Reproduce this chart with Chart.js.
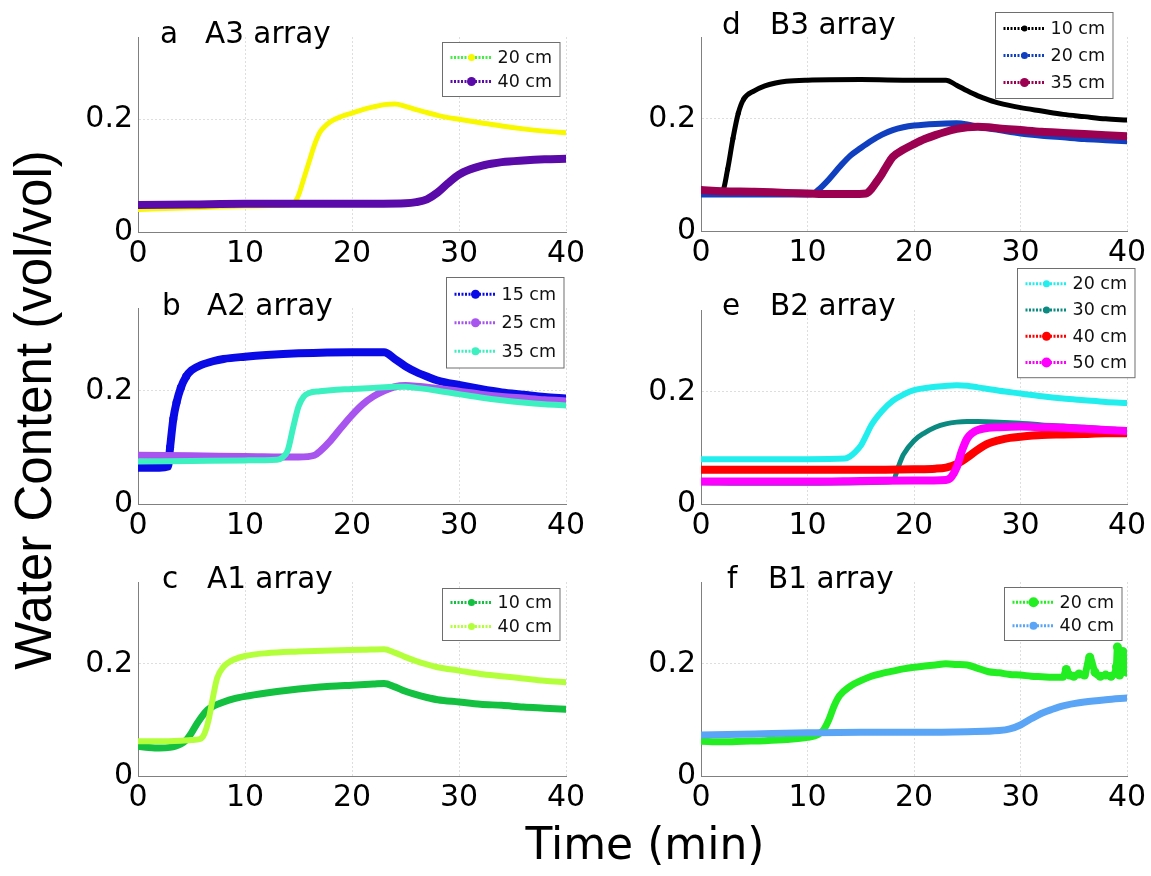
<!DOCTYPE html>
<html><head><meta charset="utf-8">
<script src="https://cdn.jsdelivr.net/npm/chart.js@4.4.0/dist/chart.umd.min.js"></script>
<style>
html,body{margin:0;padding:0;background:#fff;width:1151px;height:876px;overflow:hidden;position:relative;}
canvas{position:absolute;}
.txt{position:absolute;white-space:nowrap;color:#000;line-height:0;}
</style></head><body>
<div id="root"></div>
<script>
// ---------- data (time in min, water content vol/vol) ----------
const xTicks = [0, 10, 20, 30, 40];
const yTicks = [0, 0.2];

// a  A3 array
const A3_20_t = [0,5,10,14,14.5,15,15.5,16,16.5,17,17.5,18,19,20,21,22,23,24,25,26,27,28,29,30,32,34,36,38,40];
const A3_20_v = [0.040,0.043,0.046,0.048,0.050,0.065,0.095,0.125,0.155,0.177,0.188,0.196,0.205,0.211,0.217,0.222,0.226,0.227,0.223,0.217,0.212,0.207,0.203,0.200,0.194,0.188,0.183,0.179,0.176];
const A3_40_t = [0,5,10,15,20,25,26,27,28,29,30,31,32,33,34,36,38,40];
const A3_40_v = [0.048,0.049,0.050,0.050,0.050,0.051,0.053,0.058,0.070,0.087,0.102,0.111,0.117,0.121,0.124,0.127,0.129,0.130];

// d  B3 array
const B3_10_t = [0,1,2,2.5,3,3.5,4,5,6,7,8,10,15,20,23,24,25,26,27,28,30,32,34,36,38,40];
const B3_10_v = [0.070,0.070,0.071,0.110,0.165,0.210,0.235,0.250,0.259,0.264,0.267,0.269,0.270,0.269,0.269,0.260,0.250,0.241,0.234,0.228,0.220,0.214,0.208,0.204,0.200,0.198];
const B3_20_t = [0,5,10,10.5,11,12,13,14,15,16,17,18,19,20,22,24,25,26,28,30,32,34,36,38,40];
const B3_20_v = [0.065,0.065,0.065,0.066,0.073,0.092,0.114,0.134,0.148,0.161,0.172,0.180,0.185,0.188,0.191,0.192,0.190,0.186,0.180,0.174,0.170,0.167,0.164,0.162,0.160];
const B3_35_t = [0,2,5,8,10,12,14,15.5,16,16.5,17,17.5,18,19,20,21,22,23,24,25,26,27,28,30,32,34,36,38,40];
const B3_35_v = [0.073,0.071,0.070,0.068,0.067,0.066,0.066,0.067,0.075,0.088,0.102,0.118,0.132,0.145,0.155,0.164,0.171,0.177,0.182,0.185,0.186,0.185,0.183,0.180,0.177,0.175,0.173,0.171,0.169];

// b  A2 array
const A2_15_t = [0,1,2,2.8,3.0,3.3,3.6,4,4.5,5,6,7,8,10,12,15,20,23,24,25,26,27,28,30,32,34,36,38,40];
const A2_15_v = [0.064,0.064,0.064,0.066,0.100,0.150,0.179,0.205,0.225,0.236,0.246,0.252,0.256,0.260,0.263,0.266,0.268,0.268,0.256,0.243,0.233,0.225,0.218,0.210,0.203,0.197,0.193,0.189,0.186];
const A2_25_t = [0,5,10,15,16.5,17,18,19,20,21,22,23,24,25,26,28,30,32,34,36,38,40];
const A2_25_v = [0.086,0.085,0.084,0.083,0.086,0.093,0.112,0.135,0.157,0.176,0.190,0.200,0.207,0.209,0.208,0.204,0.199,0.194,0.190,0.187,0.184,0.182];
const A2_35_t = [0,5,10,13,13.5,14,14.5,15,15.5,16,17,18,20,22,24,25,26,28,30,32,34,36,38,40];
const A2_35_v = [0.075,0.076,0.077,0.078,0.082,0.095,0.135,0.172,0.190,0.196,0.199,0.201,0.203,0.205,0.207,0.207,0.205,0.200,0.194,0.188,0.183,0.179,0.176,0.174];

// e  B2 array
const B2_20_t = [0,5,10,13.5,14,14.5,15,15.5,16,17,18,19,20,22,24,25,26,28,30,32,34,36,38,40];
const B2_20_v = [0.080,0.080,0.080,0.081,0.085,0.093,0.104,0.122,0.141,0.166,0.184,0.195,0.203,0.209,0.212,0.211,0.208,0.202,0.197,0.192,0.188,0.185,0.182,0.180];
const B2_30_t = [0,5,10,15,18,18.5,19,20,21,22,23,24,25,26,28,30,32,34,36,38,40];
const B2_30_v = [0.038,0.037,0.037,0.038,0.040,0.065,0.088,0.113,0.127,0.137,0.143,0.146,0.147,0.147,0.146,0.144,0.141,0.139,0.137,0.134,0.132];
const B2_40_t = [0,5,10,15,20,22,23,24,25,26,27,28,29,30,32,34,36,38,40];
const B2_40_v = [0.061,0.061,0.061,0.061,0.062,0.063,0.065,0.071,0.083,0.097,0.108,0.114,0.118,0.120,0.123,0.124,0.125,0.126,0.126];
const B2_50_t = [0,5,10,15,20,23,23.5,24,24.5,25,25.5,26,27,28,30,32,34,36,38,40];
const B2_50_v = [0.040,0.040,0.040,0.041,0.042,0.043,0.048,0.065,0.095,0.117,0.127,0.132,0.136,0.137,0.138,0.137,0.136,0.134,0.132,0.130];

// c  A1 array
const A1_10_t = [0,1,2,3,3.5,4,4.5,5,5.5,6,6.5,7,8,9,10,12,14,16,18,20,22,23,24,25,26,27,28,30,32,34,36,38,40];
const A1_10_v = [0.053,0.051,0.050,0.051,0.053,0.057,0.064,0.077,0.093,0.107,0.118,0.124,0.132,0.138,0.142,0.148,0.153,0.157,0.160,0.162,0.164,0.165,0.159,0.151,0.145,0.140,0.136,0.132,0.128,0.126,0.123,0.121,0.119];
const A1_40_t = [0,2,4,5,5.8,6.2,6.6,7,7.4,8,8.5,9,10,12,15,18,21,23,24,25,26,27,28,30,32,34,36,38,40];
const A1_40_v = [0.062,0.062,0.063,0.064,0.066,0.075,0.100,0.140,0.175,0.195,0.203,0.208,0.214,0.219,0.222,0.224,0.225,0.226,0.220,0.212,0.205,0.199,0.194,0.188,0.182,0.178,0.174,0.170,0.167];

// f  B1 array
const B1_20_t = [0,2,4,6,8,10,11,11.5,12,12.5,13,14,15,16,17,18,19,20,21,22,23,24,25,26,27,28,29,30,31,32,33,34,34.3,34.6,35,35.5,36,36.5,37,37.5,38,38.5,39,39.1,39.3,39.6,39.8,40];
const B1_20_v = [0.062,0.061,0.062,0.063,0.065,0.069,0.074,0.082,0.100,0.125,0.143,0.160,0.170,0.178,0.183,0.187,0.191,0.194,0.196,0.198,0.200,0.199,0.198,0.192,0.186,0.184,0.181,0.180,0.178,0.177,0.176,0.176,0.190,0.180,0.178,0.182,0.180,0.212,0.185,0.178,0.180,0.178,0.195,0.230,0.180,0.222,0.192,0.185];
const B1_40_t = [0,5,10,15,20,25,28,29,30,31,32,33,34,35,36,38,40];
const B1_40_v = [0.073,0.075,0.077,0.078,0.078,0.079,0.081,0.084,0.091,0.102,0.112,0.119,0.125,0.129,0.132,0.136,0.139];

// ---------- layout & styles ----------
const FONT = "'DejaVu Sans'";
const panels = [
  {letter:'a', name:'A3 array', area:[138,37,566,232], title:{lx:160,nx:205,base:43}, legend:{dx:7,dy:5,rowH:24,pad:3},
   series:[
    {label:'20 cm', t:A3_20_t, v:A3_20_v, color:'#f8f800', legendLine:'#44ee44', w:5, mr:3.5},
    {label:'40 cm', t:A3_40_t, v:A3_40_v, color:'#5a0aa8', w:8, mr:4.5}]},
  {letter:'d', name:'B3 array', area:[701,37,1127,231], title:{lx:722,nx:770,base:34}, legend:{dx:15,dy:-25,rowH:27,pad:2.5},
   series:[
    {label:'10 cm', t:B3_10_t, v:B3_10_v, color:'#000000', w:5, mr:3, dotsFrom:2, dotsTo:4.5, dotR:2.5},
    {label:'20 cm', t:B3_20_t, v:B3_20_v, color:'#1040c0', w:6, mr:3.5},
    {label:'35 cm', t:B3_35_t, v:B3_35_v, color:'#9c0050', w:8, mr:4.5}]},
  {letter:'b', name:'A2 array', area:[138,308,566,504], title:{lx:162,nx:207,base:315}, legend:{dx:3,dy:-31,rowH:28.5,pad:2.5},
   series:[
    {label:'15 cm', t:A2_15_t, v:A2_15_v, color:'#0a0ae6', w:8, mr:4.5, dotsFrom:2.9, dotsTo:4.6, dotR:4},
    {label:'25 cm', t:A2_25_t, v:A2_25_v, color:'#a855f0', w:7, mr:4.5},
    {label:'35 cm', t:A2_35_t, v:A2_35_v, color:'#3cf0c0', w:6, mr:4}]},
  {letter:'e', name:'B2 array', area:[701,310,1127,504], title:{lx:722,nx:770,base:315}, legend:{dx:-7,dy:-42,rowH:26.3,pad:2},
   series:[
    {label:'20 cm', t:B2_20_t, v:B2_20_v, color:'#22eeee', w:6, mr:3.5},
    {label:'30 cm', t:B2_30_t, v:B2_30_v, color:'#0a8a80', w:5, mr:3.5},
    {label:'40 cm', t:B2_40_t, v:B2_40_v, color:'#ff0000', w:8, mr:4.5},
    {label:'50 cm', t:B2_50_t, v:B2_50_v, color:'#ff00ff', w:8, mr:5}]},
  {letter:'c', name:'A1 array', area:[138,582,566,776], title:{lx:162,nx:207,base:588}, legend:{dx:7,dy:6,rowH:24,pad:2},
   series:[
    {label:'10 cm', t:A1_10_t, v:A1_10_v, color:'#14c040', w:7, mr:3.5},
    {label:'40 cm', t:A1_40_t, v:A1_40_v, color:'#b4ff3c', w:6, mr:3.5}]},
  {letter:'f', name:'B1 array', area:[701,582,1127,776], title:{lx:727,nx:768,base:588}, legend:{dx:6,dy:5,rowH:23.5,pad:3},
   series:[
    {label:'20 cm', t:B1_20_t, v:B1_20_v, color:'#22ee22', w:7, mr:5, dotsFrom:34.2, dotsTo:40, dotR:4.5},
    {label:'40 cm', t:B1_40_t, v:B1_40_v, color:'#5aa5f5', w:7, mr:4}]}
];

const PADL = 70, PADT = 50, PADR = 30, PADB = 45;

const boxLegend = {
  id: 'boxLegend',
  afterDatasetsDraw(chart) {
    const cfg = chart.options.plugins.boxLegend;
    if (!cfg) return;
    const ctx = chart.ctx, ca = chart.chartArea;
    const items = chart.data.datasets;
    ctx.save();
    ctx.font = "17.5px " + FONT;
    const tw = Math.max(...items.map(d => ctx.measureText(d.label).width));
    const w = 8 + 42 + 5 + tw + 8;
    const h = items.length * cfg.rowH + 2 * cfg.pad;
    const x0 = Math.round(ca.right - cfg.dx - w) + 0.5;
    const y0 = Math.round(ca.top + cfg.dy) + 0.5;
    ctx.fillStyle = '#fff';
    ctx.fillRect(x0, y0, w, h);
    ctx.strokeStyle = '#6e6e6e';
    ctx.lineWidth = 1;
    ctx.strokeRect(x0, y0, w, h);
    items.forEach((d, i) => {
      const cy = y0 + cfg.pad + cfg.rowH * (i + 0.5);
      ctx.save();
      ctx.setLineDash([2, 1.5]);
      ctx.lineWidth = 3;
      ctx.strokeStyle = d.legendLine || d.borderColor;
      ctx.beginPath();
      ctx.moveTo(x0 + 8, cy);
      ctx.lineTo(x0 + 50, cy);
      ctx.stroke();
      ctx.restore();
      ctx.fillStyle = d.borderColor;
      ctx.beginPath();
      ctx.arc(x0 + 29, cy, d.markerR, 0, Math.PI * 2);
      ctx.fill();
      ctx.fillStyle = '#111';
      ctx.textBaseline = 'middle';
      ctx.textAlign = 'left';
      ctx.fillText(d.label, x0 + 55, cy + 1);
    });
    ctx.restore();
  }
};

function addText(str, x, base, size, family) {
  const el = document.createElement('div');
  el.className = 'txt';
  el.textContent = str;
  el.style.fontFamily = family;
  el.style.fontSize = size + 'px';
  el.style.left = x + 'px';
  el.style.top = (base - 0.346 * size) + 'px';
  document.body.appendChild(el);
}

panels.forEach(p => {
  const [l, t, r, b] = p.area;
  const W = (r - l) + PADL + PADR, H = (b - t) + PADT + PADB;
  const cv = document.createElement('canvas');
  cv.width = W; cv.height = H;
  cv.style.width = W + 'px'; cv.style.height = H + 'px';
  cv.style.left = (l - PADL) + 'px'; cv.style.top = (t - PADT) + 'px';
  document.body.appendChild(cv);

  const datasets = p.series.map((s, i) => ({
    label: s.label,
    data: s.t.map((x, k) => ({x: x, y: s.v[k]})),
    borderColor: s.color,
    backgroundColor: s.color,
    legendLine: s.legendLine,
    markerR: s.mr,
    borderWidth: s.w,
    pointRadius: c => (s.dotsFrom !== undefined && c.raw && c.raw.x >= s.dotsFrom && c.raw.x <= s.dotsTo) ? s.dotR : 0,
    pointBorderWidth: 0,
    cubicInterpolationMode: 'monotone',
    borderCapStyle: 'round',
    borderJoinStyle: 'round',
    fill: false,
    order: -i
  }));

  new Chart(cv, {
    type: 'line',
    data: {datasets},
    plugins: [boxLegend],
    options: {
      responsive: false,
      devicePixelRatio: 1,
      animation: false,
      events: [],
      layout: {padding: {left: 0, top: PADT, right: PADR, bottom: 0}},
      plugins: {legend: {display: false}, tooltip: {enabled: false}, boxLegend: p.legend},
      scales: {
        x: {
          type: 'linear', min: 0, max: 40,
          afterBuildTicks: s => { s.ticks = xTicks.map(v => ({value: v})); },
          afterFit: s => { s.height = PADB; },
          ticks: {font: {family: 'DejaVu Sans', size: 30}, color: '#000', padding: 4, maxRotation: 0, autoSkip: false,
                  callback: v => String(v)},
          grid: {color: '#dedede', lineWidth: 1, drawTicks: false},
          border: {color: '#808080', width: 1, dash: [2, 2]}
        },
        y: {
          type: 'linear', min: 0, max: 0.346,
          afterBuildTicks: s => { s.ticks = yTicks.map(v => ({value: v})); },
          afterFit: s => { s.width = PADL; },
          ticks: {font: {family: 'DejaVu Sans', size: 30}, color: '#000', padding: 5,
                  callback: v => String(v)},
          grid: {color: '#dedede', lineWidth: 1, drawTicks: false},
          border: {color: '#808080', width: 1, dash: [2, 2]}
        }
      }
    }
  });

  addText(p.letter, p.title.lx, p.title.base, 29.5, FONT);
  addText(p.name, p.title.nx, p.title.base, 29.5, FONT);
});

// axis titles
const yl = document.createElement('div');
yl.textContent = 'Water Content (vol/vol)';
Object.assign(yl.style, {position:'absolute', left:(33.5-300)+'px', top:(410-30)+'px', width:'600px', height:'60px',
  lineHeight:'60px', textAlign:'center', fontFamily:"'Liberation Sans'", fontSize:'51px', color:'#000',
  transform:'rotate(-90deg)', whiteSpace:'nowrap'});
document.body.appendChild(yl);

const xl = document.createElement('div');
xl.textContent = 'Time (min)';
Object.assign(xl.style, {position:'absolute', left:(645-200)+'px', top:(859 - 0.346*44)+'px', width:'400px',
  lineHeight:'0', textAlign:'center', fontFamily:FONT, fontSize:'44px', color:'#000', whiteSpace:'nowrap'});
document.body.appendChild(xl);
</script>
</body></html>
